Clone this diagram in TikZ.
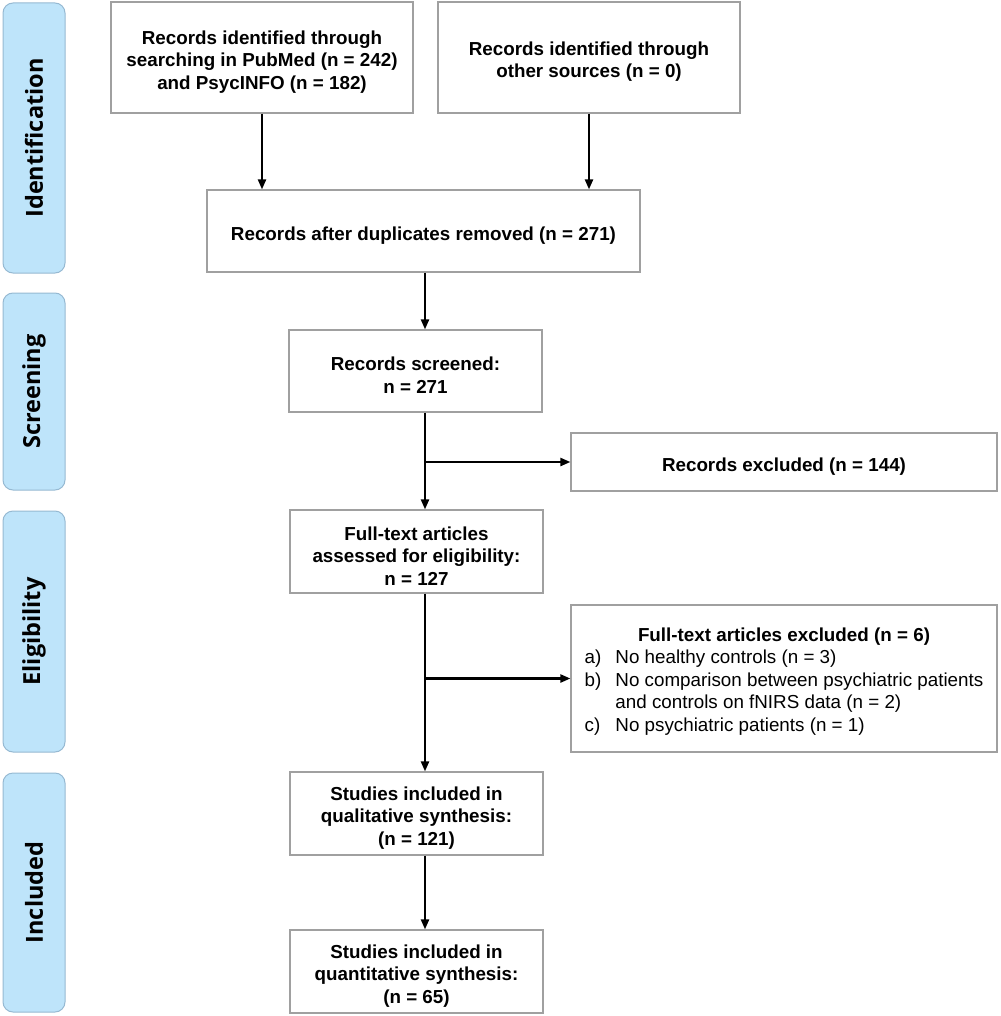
\documentclass[tikz,border=0pt]{standalone}
\usepackage{fontspec}
\setmainfont{Liberation Sans}
\newfontfamily\sidefont{Open Sans}
\usetikzlibrary{arrows.meta}
\definecolor{boxgray}{RGB}{160,160,160}
\definecolor{sidefill}{RGB}{190,228,250}
\definecolor{sideline}{RGB}{150,185,210}
\newcommand\topstrut{\rule{0pt}{22pt}}
\tikzset{
  flowbox/.style={draw=boxgray, line width=1.2pt, fill=white, inner sep=0pt, align=center},
  sidebox/.style={draw=sideline, line width=1pt, fill=sidefill, rounded corners=10pt, inner sep=0pt,
    minimum width=62pt, font=\sidefont\bfseries\fontsize{23.5}{28}\selectfont},
  fontC/.style={font=\bfseries\fontsize{18.8}{22.5}\selectfont},
  arr/.style={line width=2.2pt, -{Triangle[length=10pt,width=8pt]}}
}
\begin{document}
\begin{tikzpicture}[x=1pt,y=-1pt]
\useasboundingbox (0,0) rectangle (1000,1016);
% side labels
\node[sidebox, minimum height=270pt] (sid) at (34,138) {\rotatebox{90}{Identification}};
\node[sidebox, minimum height=197pt] (ssc) at (34,391.5) {\rotatebox{90}{Screening}};
\node[sidebox, minimum height=241pt] (sel) at (34,631.5) {\rotatebox{90}{Eligibility}};
\node[sidebox, minimum height=239pt] (sin) at (34,892.5) {\rotatebox{90}{Included}};
% boxes
\node[flowbox, fontC, minimum width=302pt, minimum height=111pt] (b1) at (262,57.5)
  {\topstrut Records identified through\\searching in PubMed (n = 242)\\and PsycINFO (n = 182)};
\node[flowbox, fontC, minimum width=302pt, minimum height=111pt] (b2) at (589,57.5)
  {\topstrut Records identified through\\other sources (n = 0)};
\node[flowbox, fontC, minimum width=433pt, minimum height=82pt] (b3) at (423.5,231)
  {\topstrut Records after duplicates removed (n = 271)};
\node[flowbox, fontC, minimum width=253pt, minimum height=82pt] (b4) at (415.5,371)
  {\topstrut Records screened:\\n = 271};
\node[flowbox, fontC, minimum width=426pt, minimum height=58pt] (b5) at (784,462)
  {\topstrut Records excluded (n = 144)};
\node[flowbox, fontC, minimum width=253pt, minimum height=83pt] (b6) at (416.5,551.5)
  {\topstrut Full-text articles\\assessed for eligibility:\\n = 127};
\node[flowbox, minimum width=426pt, minimum height=147pt, font=\fontsize{18.8}{22.5}\selectfont] (b7) at (784,678.5)
  {\begin{tabular}{@{}l@{\hspace{14pt}}l@{}}
   \multicolumn{2}{c}{\topstrut\bfseries Full-text articles excluded (n = 6)}\\
   a) & No healthy controls (n = 3)\\
   b) & No comparison between psychiatric patients\\
      & and controls on fNIRS data (n = 2)\\
   c) & No psychiatric patients (n = 1)
   \end{tabular}};
\node[flowbox, fontC, minimum width=253pt, minimum height=83pt] (b8) at (416.5,813.5)
  {\topstrut Studies included in\\qualitative synthesis:\\(n = 121)};
\node[flowbox, fontC, minimum width=253pt, minimum height=83pt] (b9) at (416.5,971.5)
  {\topstrut Studies included in\\quantitative synthesis:\\(n = 65)};
% connectors
\coordinate (spine) at (425,0);
\draw[arr] (b1.south) -- (b1.south |- b3.north);
\draw[arr] (b2.south) -- (b2.south |- b3.north);
\draw[arr] (b3.south -| spine) -- (b4.north -| spine);
\draw[arr] (b4.south -| spine) -- (b6.north -| spine);
\draw[arr] (spine |- b5.west) -- (b5.west);
\draw[arr] (b6.south -| spine) -- (b8.north -| spine);
\draw[arr] (spine |- b7.west) -- (b7.west);
\draw[arr] (b8.south -| spine) -- (b9.north -| spine);
\end{tikzpicture}
\end{document}
